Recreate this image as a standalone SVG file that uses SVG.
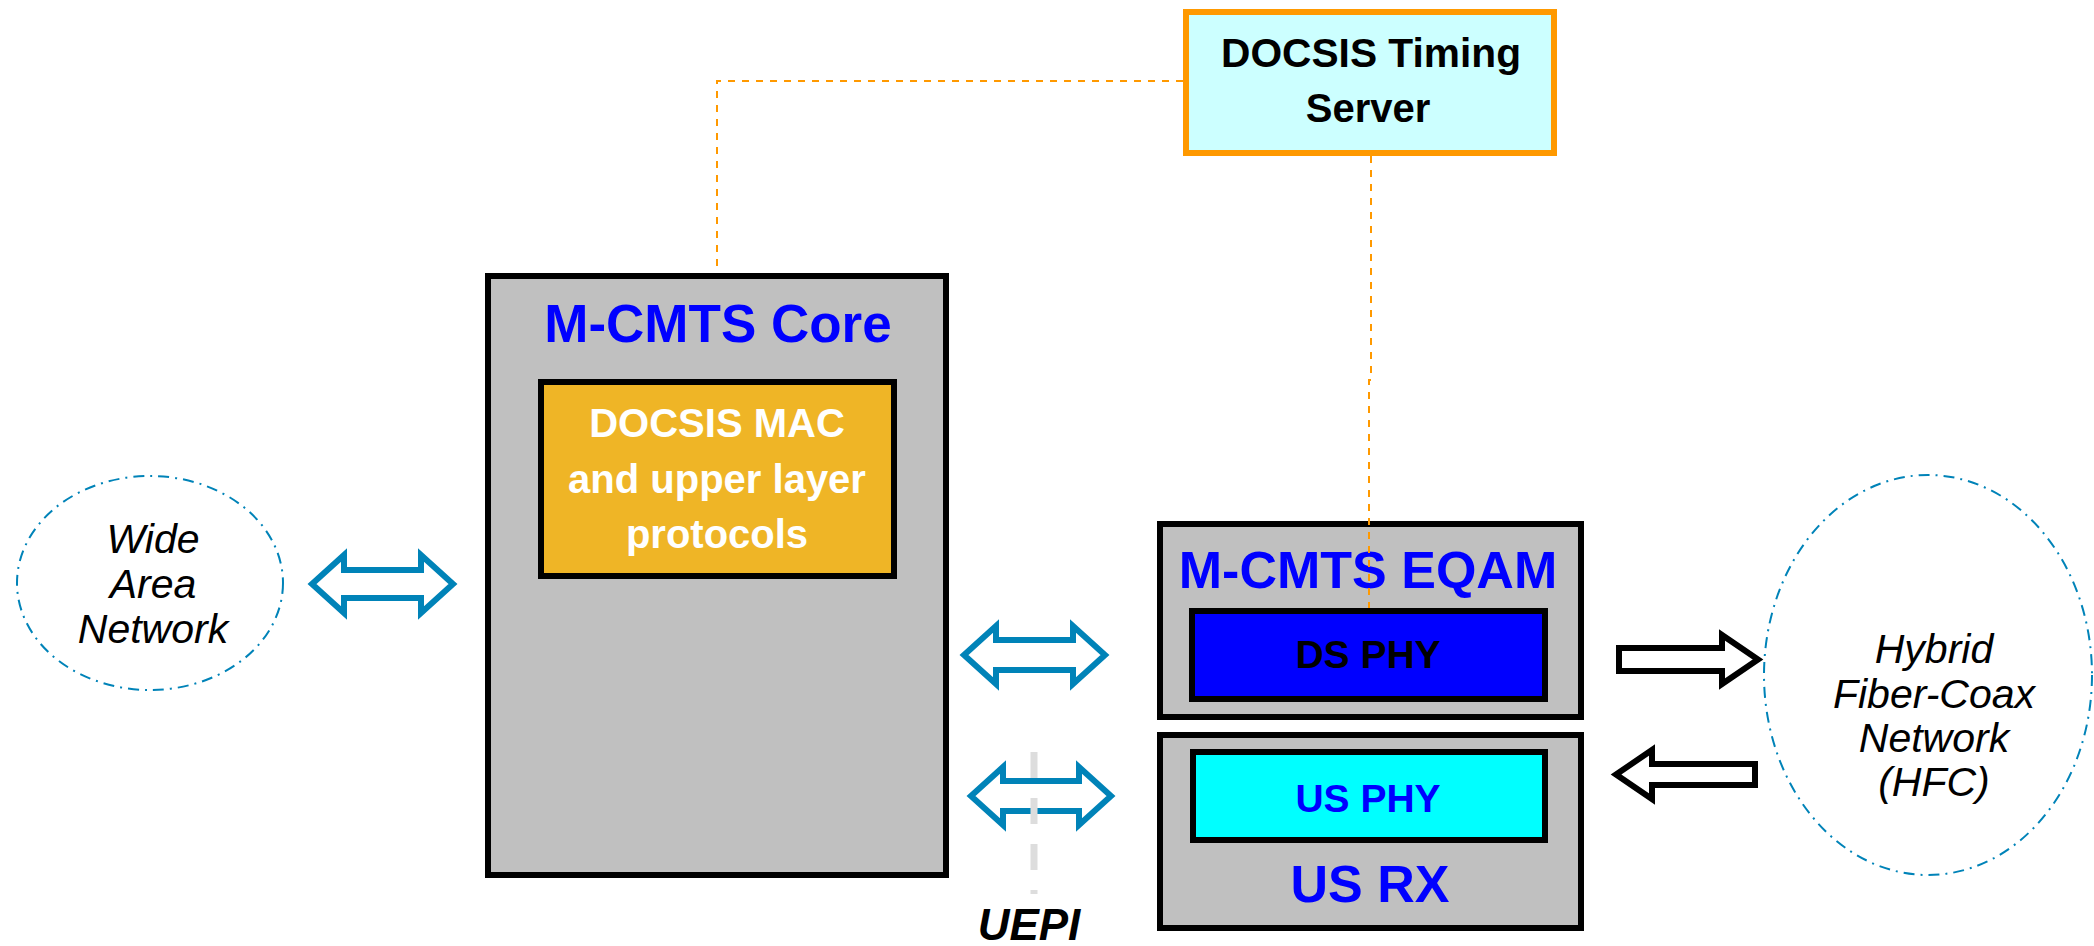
<svg xmlns="http://www.w3.org/2000/svg" width="2094" height="946" viewBox="0 0 2094 946">
  <style>
    .box { fill: #c0c0c0; stroke: #000; stroke-width: 6; }
    .inner { stroke: #000; stroke-width: 6; }
    .title { font-family: "Liberation Sans", Arial, sans-serif; font-weight: bold; fill: #0000ff; text-anchor: middle; }
    .lbl { font-family: "Liberation Sans", Arial, sans-serif; font-weight: bold; text-anchor: middle; }
    .ital { font-family: "Liberation Sans", Arial, sans-serif; font-style: italic; font-size: 41px; fill: #000; text-anchor: middle; }
    .cloud { fill: none; stroke: #0083b8; stroke-width: 2; stroke-dasharray: 11 6 2 6; }
    .timing { fill: none; stroke: #ff9900; stroke-width: 2; stroke-dasharray: 7 7; }
    .blue-arrow { fill: #fff; stroke: #0083b8; stroke-width: 6; stroke-linejoin: miter; stroke-miterlimit: 10; }
    .black-arrow { fill: #fff; stroke: #000; stroke-width: 6; stroke-linejoin: miter; stroke-miterlimit: 10; }
  </style>

  <g id="wan">
    <ellipse class="cloud" cx="150" cy="583" rx="133" ry="107"/>
    <text class="ital" x="153" y="553">Wide</text>
    <text class="ital" x="153" y="598">Area</text>
    <text class="ital" x="153" y="643">Network</text>
  </g>

  <g id="timing-server">
    <rect x="1186" y="12" width="368" height="141" fill="#ccffff" stroke="#ff9900" stroke-width="6"/>
    <text class="lbl" x="1371" y="67" font-size="40" textLength="300" lengthAdjust="spacingAndGlyphs">DOCSIS Timing</text>
    <text class="lbl" x="1368" y="122" font-size="40">Server</text>
  </g>

  <g id="mcmts-core">
    <rect class="box" x="488" y="276" width="458" height="599"/>
    <text class="title" x="718" y="342" font-size="53">M-CMTS Core</text>
    <g id="docsis-mac">
      <rect class="inner" x="541" y="382" width="353" height="194" fill="#efb526"/>
      <text class="lbl" x="717" y="437" font-size="40" fill="#fff">DOCSIS MAC</text>
      <text class="lbl" x="717" y="493" font-size="40" fill="#fff">and upper layer</text>
      <text class="lbl" x="717" y="548" font-size="40" fill="#fff">protocols</text>
    </g>
  </g>

  <g id="eqam">
    <rect class="box" x="1160" y="524" width="421" height="193"/>
    <text class="title" x="1368" y="588" font-size="52">M-CMTS EQAM</text>
    <g id="ds-phy">
      <rect class="inner" x="1192" y="611" width="353" height="88" fill="#0000ff"/>
      <text class="lbl" x="1368" y="668" font-size="39" fill="#000">DS PHY</text>
    </g>
  </g>

  <g id="us-rx">
    <rect class="box" x="1160" y="735" width="421" height="193"/>
    <g id="us-phy">
      <rect class="inner" x="1193" y="752" width="352" height="88" fill="#00ffff"/>
      <text class="lbl" x="1368" y="812" font-size="39" fill="#0000ff">US PHY</text>
    </g>
    <text class="title" x="1370" y="902" font-size="52">US RX</text>
  </g>

  <g id="hfc">
    <ellipse class="cloud" cx="1928" cy="675" rx="164" ry="200"/>
    <text class="ital" x="1934" y="663">Hybrid</text>
    <text class="ital" x="1934" y="708">Fiber-Coax</text>
    <text class="ital" x="1934" y="752">Network</text>
    <text class="ital" x="1934" y="796">(HFC)</text>
  </g>

  <g id="connectors">
    <path class="timing" d="M 1183 81 L 717 81 L 717 273"/>
    <path class="timing" d="M 1371 156 L 1371 380 L 1369 380 L 1369 608"/>
    <path class="blue-arrow" d="M 312 584 L 344 555 L 344 570 L 421 570 L 421 555 L 453 584 L 421 613 L 421 598 L 344 598 L 344 613 Z"/>
    <path class="blue-arrow" d="M 964 655 L 996 626 L 996 640 L 1073 640 L 1073 626 L 1105 655 L 1073 684 L 1073 670 L 996 670 L 996 684 Z"/>
    <path class="blue-arrow" d="M 971 796 L 1003 767 L 1003 781 L 1079 781 L 1079 767 L 1111 796 L 1079 825 L 1079 811 L 1003 811 L 1003 825 Z"/>
    <path class="black-arrow" d="M 1619 648 L 1722 648 L 1722 635 L 1758 659.5 L 1722 684 L 1722 671 L 1619 671 Z"/>
    <path class="black-arrow" d="M 1755 764 L 1652 764 L 1652 750 L 1616 774.5 L 1652 799 L 1652 785 L 1755 785 Z"/>
    <line x1="1034" y1="752" x2="1034" y2="894" stroke="#dddddd" stroke-width="7" stroke-dasharray="26 20"/>
  </g>

  <g id="uepi-label">
    <text class="lbl" x="1029" y="940" font-size="44" font-style="italic" fill="#000">UEPI</text>
  </g>
</svg>
